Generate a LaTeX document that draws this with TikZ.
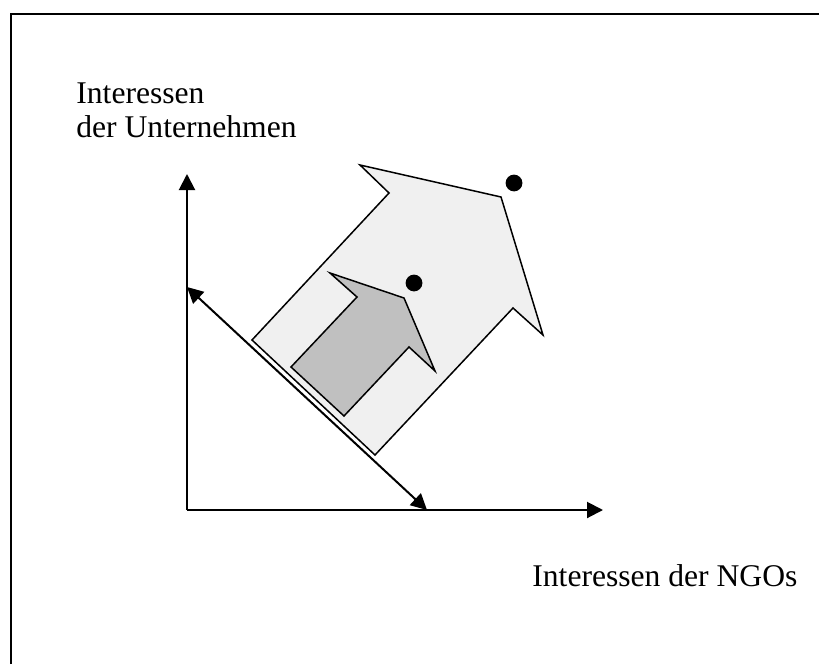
\documentclass[tikz,border=0pt]{standalone}
\usepackage{fontspec}
\setmainfont{Liberation Serif}
\usetikzlibrary{arrows.meta}
\definecolor{lightfill}{HTML}{F0F0F0}
\definecolor{darkfill}{HTML}{C0C0C0}

\begin{document}
\begin{tikzpicture}[x=0.5pt, y=-0.5pt,
    axisline/.style={line width=1pt, -{Triangle[length=8pt, width=8pt]}},
    bigarrow/.style={draw, line width=0.75pt, fill=lightfill, line join=miter},
    smallarrow/.style={draw, line width=0.75pt, fill=darkfill, line join=miter},
    axislabel/.style={inner sep=0pt, font=\fontsize{15.8}{17}\selectfont}]
    \useasboundingbox (0, 0) rectangle (819, 664);
    % frame
    \draw[line width=1.3pt] (11, 664) -- (11, 14) -- (819, 14);

    % axes
    \coordinate (origin) at (187, 510);
    \coordinate (ytip) at (187, 174);
    \coordinate (xtip) at (603, 510);
    \draw[axisline] (origin) -- (ytip);
    \draw[axisline] (origin) -- (xtip);

    \node[axislabel, anchor=north west, align=left] (ylabel) at (76, 82) {Interessen\\der Unternehmen};
    \node[axislabel, anchor=base west] (xlabel) at (532, 586) {Interessen der NGOs};

    % big arrow
    \draw[bigarrow] (252, 340) -- (389, 193) -- (360, 165) -- (501, 197) -- (543, 335) -- (513, 308) -- (375, 455) -- cycle;
    \fill (514, 183) circle (4.2pt);

    % small arrow
    \draw[smallarrow] (291, 367) -- (357, 297) -- (330, 273) -- (404, 298) -- (435, 371) -- (409, 347) -- (344, 416) -- cycle;
    \fill (414, 283) circle (4.2pt);

    % diagonal
    \coordinate (ntip) at (187, 287);
    \coordinate (stip) at (427, 510);
    \draw[line width=1pt, {Triangle[length=8pt, width=8pt]}-{Triangle[length=8pt, width=8pt]}] (ntip) -- (stip);
\end{tikzpicture}
\end{document}
